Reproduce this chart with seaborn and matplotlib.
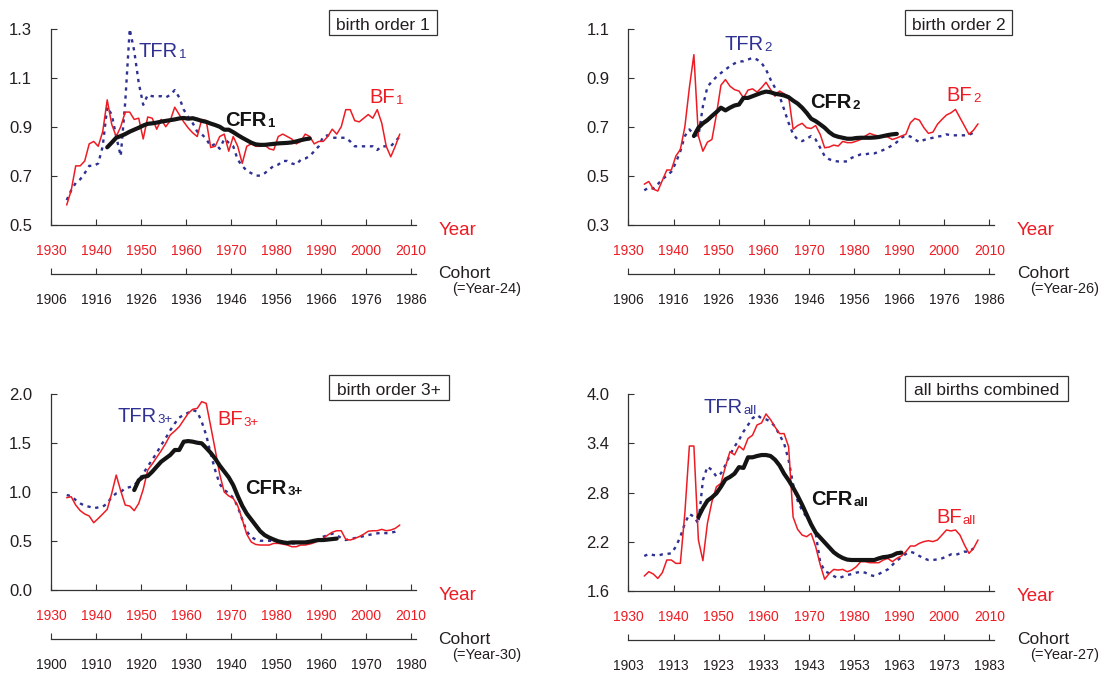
import matplotlib
matplotlib.use("Agg")
import matplotlib.pyplot as plt
from matplotlib.patches import Rectangle
from matplotlib.ticker import FormatStrFormatter
import numpy as np
import pandas as pd
import seaborn as sns

# ---------------------------------------------------------------------------
# Data: annual birth frequencies (BF) and period TFR from 1933, completed
# cohort fertility (CFR) for the 1918-1963 birth cohorts.
# ---------------------------------------------------------------------------
FIRST_YEAR = 1933
FIRST_COHORT = 1918

YEAR_TICKS = [1930, 1940, 1950, 1960, 1970, 1980, 1990, 2000, 2010]

bf_1 = [0.58, 0.64, 0.74, 0.74, 0.76, 0.83, 0.84, 0.82, 0.88, 1.01,
        0.91, 0.86, 0.90, 0.96, 0.96, 0.93, 0.935, 0.85, 0.94, 0.935,
        0.89, 0.93, 0.90, 0.925, 0.98, 0.95, 0.92, 0.895, 0.875, 0.86,
        0.93, 0.925, 0.815, 0.82, 0.86, 0.87, 0.80, 0.86, 0.82, 0.75,
        0.82, 0.83, 0.82, 0.82, 0.825, 0.81, 0.805, 0.86, 0.87, 0.86,
        0.85, 0.83, 0.84, 0.87, 0.86, 0.83, 0.84, 0.84, 0.86, 0.89,
        0.87, 0.90, 0.97, 0.97, 0.925, 0.92, 0.935, 0.95, 0.935, 0.97,
        0.915, 0.82, 0.777, 0.82, 0.87]
tfr_1 = [0.60, 0.64, 0.67, 0.685, 0.71, 0.74, 0.74, 0.75, 0.82, 0.98,
         0.95, 0.86, 0.78, 1.00, 1.30, 1.21, 1.08, 0.99, 1.03, 1.025,
         1.025, 1.025, 1.02, 1.03, 1.05, 1.02, 0.97, 0.94, 0.915, 0.88,
         0.87, 0.85, 0.82, 0.83, 0.81, 0.85, 0.835, 0.82, 0.765, 0.74,
         0.72, 0.71, 0.70, 0.70, 0.71, 0.725, 0.74, 0.745, 0.76, 0.76,
         0.75, 0.745, 0.765, 0.77, 0.78, 0.80, 0.82, 0.86, 0.865, 0.855,
         0.855, 0.855, 0.855, 0.84, 0.82, 0.82, 0.82, 0.82, 0.82, 0.805,
         0.82, 0.82, 0.82, 0.84, 0.86]
cfr_1 = [0.816, 0.835, 0.855, 0.862, 0.87, 0.88, 0.888, 0.896, 0.905, 0.912,
         0.914, 0.917, 0.921, 0.924, 0.927, 0.93, 0.934, 0.936, 0.933, 0.935,
         0.93, 0.924, 0.92, 0.913, 0.907, 0.90, 0.888, 0.888, 0.878, 0.866,
         0.855, 0.845, 0.835, 0.828, 0.826, 0.826, 0.828, 0.83, 0.832, 0.833,
         0.834, 0.836, 0.84, 0.845, 0.849, 0.852]

bf_2 = [0.465, 0.476, 0.445, 0.437, 0.48, 0.523, 0.523, 0.58, 0.607, 0.70,
        0.86, 0.995, 0.662, 0.60, 0.637, 0.648, 0.75, 0.87, 0.893, 0.866,
        0.852, 0.846, 0.818, 0.85, 0.855, 0.842, 0.86, 0.882, 0.852, 0.825,
        0.846, 0.835, 0.825, 0.69, 0.705, 0.714, 0.696, 0.693, 0.705, 0.669,
        0.614, 0.617, 0.625, 0.621, 0.64, 0.635, 0.635, 0.641, 0.648, 0.662,
        0.673, 0.666, 0.662, 0.662, 0.658, 0.648, 0.654, 0.662, 0.669, 0.716,
        0.734, 0.727, 0.696, 0.673, 0.678, 0.71, 0.73, 0.748, 0.757, 0.771,
        0.737, 0.703, 0.669, 0.686, 0.712]
tfr_2 = [0.44, 0.451, 0.447, 0.465, 0.485, 0.50, 0.516, 0.553, 0.60, 0.662,
         0.689, 0.669, 0.662, 0.784, 0.863, 0.886, 0.904, 0.92, 0.934, 0.948,
         0.959, 0.967, 0.968, 0.975, 0.982, 0.975, 0.961, 0.934, 0.893, 0.859,
         0.825, 0.771, 0.716, 0.669, 0.648, 0.641, 0.651, 0.662, 0.648, 0.614,
         0.58, 0.567, 0.56, 0.558, 0.558, 0.558, 0.573, 0.58, 0.587, 0.587,
         0.591, 0.591, 0.597, 0.605, 0.614, 0.624, 0.637, 0.655, 0.665, 0.66,
         0.648, 0.637, 0.646, 0.651, 0.655, 0.66, 0.662, 0.669, 0.665, 0.665,
         0.665, 0.665, 0.667, 0.676]
cfr_2 = [0.662, 0.696, 0.714, 0.727, 0.744, 0.76, 0.778, 0.767, 0.778, 0.787,
         0.791, 0.818, 0.818, 0.825, 0.832, 0.839, 0.844, 0.841, 0.835, 0.832,
         0.828, 0.821, 0.807, 0.795, 0.778, 0.757, 0.733, 0.723, 0.71, 0.696,
         0.678, 0.665, 0.659, 0.655, 0.651, 0.651, 0.654, 0.655, 0.655, 0.655,
         0.656, 0.658, 0.662, 0.666, 0.669, 0.671]

bf_3 = [0.942, 0.952, 0.867, 0.81, 0.776, 0.755, 0.687, 0.73, 0.776, 0.823,
        0.986, 1.173, 1.013, 0.867, 0.857, 0.81, 0.884, 1.027, 1.224, 1.286,
        1.354, 1.422, 1.497, 1.582, 1.622, 1.667, 1.735, 1.803, 1.844, 1.854,
        1.922, 1.905, 1.67, 1.43, 1.18, 1.0, 0.96, 0.935, 0.86, 0.72,
        0.57, 0.49, 0.465, 0.459, 0.459, 0.459, 0.476, 0.476, 0.469, 0.459,
        0.442, 0.442, 0.459, 0.459, 0.469, 0.483, 0.51, 0.527, 0.561, 0.59,
        0.605, 0.605, 0.517, 0.51, 0.527, 0.545, 0.57, 0.60, 0.605, 0.605,
        0.619, 0.605, 0.612, 0.629, 0.663]
tfr_3 = [0.969, 0.959, 0.918, 0.884, 0.86, 0.85, 0.835, 0.843, 0.85, 0.884,
         0.95, 0.986, 1.00, 1.04, 1.05, 1.07, 1.12, 1.19, 1.26, 1.33,
         1.40, 1.48, 1.55, 1.63, 1.70, 1.76, 1.786, 1.81, 1.837, 1.82,
         1.717, 1.58, 1.39, 1.22, 1.08, 1.02, 0.99, 0.94, 0.85, 0.72,
         0.60, 0.54, 0.515, 0.503, 0.503, 0.503, 0.50, 0.493, 0.485, 0.476,
         0.476, 0.476, 0.48, 0.485, 0.49, 0.503, 0.52, 0.544, 0.56, 0.575,
         0.56, 0.53, 0.51, 0.52, 0.53, 0.54, 0.55, 0.561, 0.57, 0.578,
         0.585, 0.58, 0.585, 0.595, 0.612]
cfr_3 = [1.02, 1.12, 1.156, 1.163, 1.207, 1.259, 1.31, 1.344, 1.378, 1.429,
         1.429, 1.514, 1.52, 1.514, 1.503, 1.497, 1.45, 1.40, 1.34, 1.27,
         1.21, 1.15, 1.07, 0.96, 0.86, 0.78, 0.72, 0.66, 0.60, 0.56,
         0.535, 0.515, 0.497, 0.487, 0.48, 0.486, 0.486, 0.486, 0.486, 0.493,
         0.503, 0.51, 0.51, 0.515, 0.52, 0.525]

bf_all = [1.779, 1.832, 1.804, 1.75, 1.82, 1.975, 1.975, 1.934, 1.934, 2.55,
          3.368, 3.368, 2.22, 1.967, 2.423, 2.688, 2.871, 2.912, 3.116, 3.30,
          3.26, 3.368, 3.32, 3.46, 3.50, 3.625, 3.65, 3.76, 3.69, 3.60,
          3.52, 3.52, 3.36, 2.50, 2.35, 2.28, 2.26, 2.30, 2.14, 1.92,
          1.74, 1.81, 1.86, 1.852, 1.86, 1.832, 1.852, 1.893, 1.955, 1.955,
          1.942, 1.942, 1.942, 1.975, 1.995, 1.955, 1.995, 2.024, 2.077, 2.146,
          2.146, 2.179, 2.20, 2.211, 2.20, 2.22, 2.28, 2.342, 2.33, 2.342,
          2.28, 2.158, 2.056, 2.117, 2.22]
tfr_all = [2.024, 2.049, 2.036, 2.028, 2.044, 2.049, 2.057, 2.138, 2.26, 2.423,
           2.537, 2.505, 2.42, 2.953, 3.116, 3.075, 2.994, 3.034, 3.136, 3.258,
           3.36, 3.442, 3.544, 3.625, 3.707, 3.747, 3.707, 3.694, 3.666, 3.605,
           3.503, 3.40, 3.197, 2.90, 2.70, 2.58, 2.50, 2.42, 2.30, 1.95,
           1.84, 1.812, 1.779, 1.75, 1.771, 1.791, 1.804, 1.82, 1.832, 1.82,
           1.791, 1.779, 1.804, 1.832, 1.86, 1.914, 1.967, 2.008, 2.049, 2.077,
           2.057, 2.024, 1.995, 1.975, 1.975, 1.983, 1.995, 2.016, 2.044, 2.036,
           2.057, 2.077, 2.077, 2.117]
cfr_all = [2.50, 2.61, 2.70, 2.74, 2.79, 2.87, 2.96, 2.99, 3.03, 3.11,
           3.10, 3.23, 3.23, 3.246, 3.258, 3.258, 3.246, 3.20, 3.13, 3.03,
           2.95, 2.86, 2.76, 2.65, 2.53, 2.41, 2.31, 2.25, 2.19, 2.13,
           2.07, 2.03, 2.00, 1.98, 1.975, 1.975, 1.975, 1.975, 1.975, 1.975,
           1.995, 2.01, 2.016, 2.03, 2.057, 2.065]

y_ticks_1 = [0.5, 0.7, 0.9, 1.1, 1.3]
y_ticks_2 = [0.3, 0.5, 0.7, 0.9, 1.1]
y_ticks_3 = [0.0, 0.5, 1.0, 1.5, 2.0]
y_ticks_all = [1.6, 2.2, 2.8, 3.4, 4.0]

# cohort-scale labels printed under the year ticks 1930 ... 2010
cohort_labels_1 = [1906, 1916, 1926, 1936, 1946, 1956, 1966, 1976, 1986]
cohort_labels_2 = [1906, 1916, 1926, 1936, 1946, 1956, 1966, 1976, 1986]
cohort_labels_3 = [1900, 1910, 1920, 1930, 1940, 1950, 1960, 1970, 1980]
cohort_labels_all = [1903, 1913, 1923, 1933, 1943, 1953, 1963, 1973, 1983]

panel_titles = ["birth order 1", "birth order 2", "birth order 3+", "all births combined"]
order_tags = ["1", "2", "3+", "all"]
cohort_lags = [24, 26, 30, 27]   # cohort = year - lag

# ---------------------------------------------------------------------------
# Style
# ---------------------------------------------------------------------------
RED = "#ed1c24"
BLUE = "#2e3192"
BLACK = "#141414"
AXIS = "#333333"
TEXT = "#231f20"

sns.set_theme(style="ticks")
plt.rcParams["font.family"] = ["Liberation Sans", "DejaVu Sans"]
plt.rcParams["axes.facecolor"] = "white"

fig = plt.figure(figsize=(11.03, 6.73), dpi=100)
fig.patch.set_facecolor("white")


def annual_frame(values):
    # calendar-year rates are drawn at mid-year
    years = np.arange(FIRST_YEAR, FIRST_YEAR + len(values))
    return pd.DataFrame({"year": years + 0.5, "value": values})


def cohort_frame(values, lag):
    cohorts = np.arange(FIRST_COHORT, FIRST_COHORT + len(values))
    return pd.DataFrame({"year": cohorts + lag + 0.5, "value": values})


def series_label(ax, x, y, main, tag, color, bold=False):
    weight = "bold" if bold else "normal"
    t = ax.text(x, y, main, color=color, fontsize=14.5, fontweight=weight,
                ha="left", va="baseline", zorder=6)
    ax.annotate(tag, xy=(1, 0), xycoords=t, xytext=(0.6, 0),
                textcoords="offset points", color=color, fontsize=9.5,
                fontweight=weight, ha="left", va="bottom", zorder=6)


def draw_panel(rect, bf, tfr, cfr, yticks, cohort_labels, title, tag, lag,
               lab, box_x):
    ax = fig.add_axes(rect)
    sns.lineplot(data=annual_frame(tfr), x="year", y="value", ax=ax,
                 color=BLUE, linewidth=1.7, linestyle=(0, (1.4, 2.0)),
                 errorbar=None, zorder=2)
    sns.lineplot(data=annual_frame(bf), x="year", y="value", ax=ax,
                 color=RED, linewidth=1.1, errorbar=None, zorder=3)
    sns.lineplot(data=cohort_frame(cfr, lag), x="year", y="value", ax=ax,
                 color=BLACK, linewidth=3.0, errorbar=None, zorder=4)

    ax.set_xlim(1930, 2011)
    ax.set_ylim(yticks[0], yticks[-1])
    ax.set_xticks(YEAR_TICKS)
    ax.set_yticks(yticks)
    ax.yaxis.set_major_formatter(FormatStrFormatter("%.1f"))
    ax.set_xlabel("")
    ax.set_ylabel("")
    sns.despine(ax=ax)
    for side in ("left", "bottom"):
        ax.spines[side].set_color(AXIS)
        ax.spines[side].set_linewidth(0.9)
    ax.tick_params(axis="x", direction="in", length=4, width=0.8, pad=14,
                   labelsize=10, labelcolor=RED, color=AXIS)
    ax.tick_params(axis="y", direction="in", length=4, width=0.8, pad=13.5,
                   labelsize=12, labelcolor=TEXT, color=AXIS)

    # cohort scale underneath the calendar-year scale
    sec = ax.secondary_xaxis(-0.252, functions=(lambda x, l=lag: x - l,
                                                lambda x, l=lag: x + l))
    sec.set_xticks([t - lag for t in YEAR_TICKS],
                   labels=[str(c) for c in cohort_labels])
    sec.tick_params(direction="in", length=4, width=0.8, pad=13.7,
                    labelsize=10, labelcolor=TEXT, color=AXIS)
    sec.spines["bottom"].set_color(AXIS)
    sec.spines["bottom"].set_linewidth(0.9)

    ax.text(1.063, -0.03, "Year", transform=ax.transAxes, color=RED,
            fontsize=13.5, ha="left", va="center", clip_on=False)
    ax.text(1.063, -0.25, "Cohort", transform=ax.transAxes, color=TEXT,
            fontsize=12.5, ha="left", va="center", clip_on=False)
    ax.text(1.10, -0.33, f"(=Year-{lag})", transform=ax.transAxes, color=TEXT,
            fontsize=10.5, ha="left", va="center", clip_on=False)

    # panel title in a frame
    x0, x1 = box_x
    ax.add_patch(Rectangle((x0, 0.968), x1 - x0, 0.127, transform=ax.transAxes,
                           fill=False, edgecolor=AXIS, linewidth=0.9,
                           clip_on=False))
    ax.text((x0 + x1) / 2, 0.995, title, transform=ax.transAxes, color=TEXT,
            fontsize=12.5, ha="center", va="baseline", clip_on=False)

    series_label(ax, *lab["tfr"], "TFR", tag, BLUE)
    series_label(ax, *lab["bf"], "BF", tag, RED)
    series_label(ax, *lab["cfr"], "CFR", tag, BLACK, bold=True)
    return ax


panels = [
    dict(rect=[0.0462, 0.6664, 0.3305, 0.2905], bf=bf_1, tfr=tfr_1, cfr=cfr_1,
         yticks=y_ticks_1, cohort_labels=cohort_labels_1, box_x=(0.762, 1.058),
         lab={"tfr": (1949.5, 1.187), "bf": (2000.8, 0.998), "cfr": (1968.7, 0.903)}),
    dict(rect=[0.5698, 0.6664, 0.3312, 0.2905], bf=bf_2, tfr=tfr_2, cfr=cfr_2,
         yticks=y_ticks_2, cohort_labels=cohort_labels_2, box_x=(0.757, 1.050),
         lab={"tfr": (1951.3, 1.014), "bf": (2000.5, 0.806), "cfr": (1970.3, 0.776)}),
    dict(rect=[0.0462, 0.1233, 0.3305, 0.2912], bf=bf_3, tfr=tfr_3, cfr=cfr_3,
         yticks=y_ticks_3, cohort_labels=cohort_labels_3, box_x=(0.762, 1.0925),
         lab={"tfr": (1944.8, 1.717), "bf": (1966.9, 1.684), "cfr": (1973.2, 0.98)}),
    dict(rect=[0.5698, 0.1223, 0.3312, 0.2918], bf=bf_all, tfr=tfr_all, cfr=cfr_all,
         yticks=y_ticks_all, cohort_labels=cohort_labels_all, box_x=(0.757, 1.202),
         lab={"tfr": (1946.7, 3.768), "bf": (1998.2, 2.43), "cfr": (1970.5, 2.647)}),
]

for p, title, tag, lag in zip(panels, panel_titles, order_tags, cohort_lags):
    draw_panel(p["rect"], p["bf"], p["tfr"], p["cfr"], p["yticks"],
               p["cohort_labels"], title, tag, lag, p["lab"], p["box_x"])

fig.savefig("out.png", dpi=100, facecolor="white")
